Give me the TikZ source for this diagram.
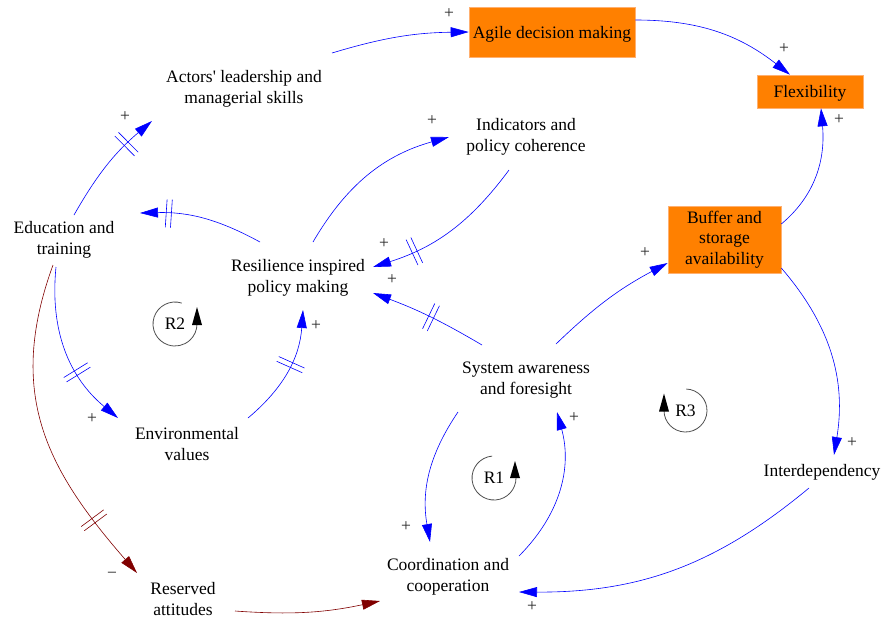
\documentclass[tikz,border=0pt]{standalone}
\usepackage{fontspec}
\setmainfont{Liberation Serif}[Ligatures=TeXOff]
\usetikzlibrary{arrows.meta,calc,decorations.markings}
\definecolor{boxfill}{HTML}{FF8000}
\definecolor{boxline}{HTML}{FFB070}
\definecolor{lnk}{HTML}{0000FF}
\definecolor{negc}{HTML}{800000}
\definecolor{loopgray}{HTML}{505050}
\newcommand{\fs}{\fontsize{17.5}{20.5}\selectfont}
\begin{document}
\begin{tikzpicture}[x=1pt,y=1pt,
  var/.style={font=\fs, align=center, inner sep=0pt, text=black},
  box/.style={var, fill=boxfill, draw=boxline, line width=0.6pt, text depth=0pt},
  poslink/.style={draw=lnk, line width=0.6pt, -{Triangle[length=18pt,width=10pt,fill=lnk]}},
  neglink/.style={draw=negc, line width=0.6pt, -{Triangle[length=18pt,width=10pt,fill=negc]}},
  bdelay/.style={postaction={decorate, decoration={markings, mark=at position #1 with {\draw[-,draw=lnk,line width=0.6pt] (-2.6,-14)--(-2.6,14) (2.6,-14)--(2.6,14);}}}},
  rdelay/.style={postaction={decorate, decoration={markings, mark=at position #1 with {\draw[-,draw=negc,line width=0.6pt] (-2.6,-14)--(-2.6,14) (2.6,-14)--(2.6,14);}}}},
  sign/.style={font=\fs, inner sep=0pt, text=black!85},
  loopc/.style={draw=loopgray, line width=0.8pt},
  looptip/.style={fill=black},
  looplbl/.style={font=\fs, inner sep=0pt, text=black}
]
\useasboundingbox (0,0) rectangle (883,-622);

% variables
\node[var] (act) at (244,-89) {Actors' leadership and\\managerial skills};
\node[box, minimum width=166, minimum height=50] (agile) at (552,-32) {Agile decision making};
\node[box, minimum width=106, minimum height=33] (flex) at (810,-91.5) {Flexibility};
\node[var] (ind) at (526,-137) {Indicators and\\policy coherence};
\node[var] (edu) at (64,-240) {Education and\\training};
\node[var] (res) at (298,-278) {Resilience inspired\\policy making};
\node[box, minimum width=113, minimum height=67, text depth=] (buf) at (724.5,-239.5) {Buffer and\\storage\\availability};
\node[var] (env) at (187,-444) {Environmental\\values};
\node[var] (sys) at (526,-380) {System awareness\\and foresight};
\node[var] (inter) at (822,-472) {Interdependency};
\node[var] (coord) at (448,-577) {Coordination and\\cooperation};
\node[var] (resv) at (183,-599) {Reserved\\attitudes};

% connectors
\draw[poslink] ($(act)+(88,36)$) to[bend left=8] (agile.west);
\draw[poslink] ($(agile.east)+(0,12)$) to[out=0,in=142] ($(flex.north)+(-20,0)$);
\draw[poslink] ($(buf.east)+(0,15.5)$) to[out=40,in=-85] ($(flex.south)+(11,0)$);
\draw[poslink, bdelay=0.72] ($(edu)+(10,25)$) to[bend left=10] ($(act)+(-92,-32)$);
\draw[poslink, bdelay=0.77] ($(res)+(-38,36)$) to[bend right=15] ($(edu)+(76,27)$);
\draw[poslink] ($(res)+(15,36)$) to[bend left=22] ($(ind)+(-77,0)$);
\draw[poslink, bdelay=0.74] ($(ind)+(-17,-33)$) to[bend left=18] ($(res)+(75,11)$);
\draw[poslink, bdelay=0.48] ($(sys)+(-44,35)$) to[bend right=5] ($(res)+(75,-15)$);
\draw[poslink, bdelay=0.64] ($(edu)+(-8,-27)$) to[bend right=28] ($(env)+(-69,26)$);
\draw[poslink, bdelay=0.55] ($(env)+(61,26)$) to[bend right=23] ($(res)+(5,-32)$);
\draw[neglink, rdelay=0.80] ($(edu)+(-11,-25)$) to[out=250,in=131,looseness=1.1] ($(resv)+(-46,26)$);
\draw[neglink] ($(resv)+(52,-12)$) to[bend right=8] ($(coord)+(-68,-24)$);
\draw[poslink] ($(sys)+(30,36)$) to[bend left=8] ($(buf.west)+(0,-23.5)$);
\draw[poslink] ($(sys)+(-68,-32)$) to[bend right=22] ($(coord)+(-18,35)$);
\draw[poslink] ($(coord)+(71,21)$) to[bend right=30] ($(sys)+(31,-32)$);
\draw[poslink] ($(buf.east)+(0,-28.5)$) to[bend left=25] ($(inter)+(12,17)$);
\draw[poslink] ($(inter)+(-13,-16)$) to[bend left=20] ($(coord)+(71,-15)$);

% polarity signs
\node[sign] (s1) at (449,-14) {+};
\node[sign] (s2) at (784,-49) {+};
\node[sign] (s3) at (839,-120) {+};
\node[sign] (s4) at (125,-117) {+};
\node[sign] (s5) at (432,-121) {+};
\node[sign] (s6) at (384,-244) {+};
\node[sign] (s7) at (392,-280) {+};
\node[sign] (s8) at (92,-419) {+};
\node[sign] (s9) at (316,-326) {+};
\node[sign] (s10) at (112,-575) {−};
\node[sign] (s11) at (645,-253) {+};
\node[sign] (s12) at (406,-527) {+};
\node[sign] (s13) at (574,-418) {+};
\node[sign] (s14) at (852,-443) {+};
\node[sign] (s15) at (532,-607) {+};

% loop markers
\node[looplbl] (r2) at (175,-324) {R2};
\draw[loopc] ([shift={(72:22)}]r2.center) arc[start angle=72,end angle=360,radius=22];
\fill[looptip] ([shift={(17,-1)}]r2.center) -- ([shift={(27,-1)}]r2.center) -- ([shift={(22,17)}]r2.center) -- cycle;

\node[looplbl] (r1) at (494,-478) {R1};
\draw[loopc] ([shift={(95:22)}]r1.center) arc[start angle=95,end angle=360,radius=22];
\fill[looptip] ([shift={(16,0)}]r1.center) -- ([shift={(26,0)}]r1.center) -- ([shift={(21,17)}]r1.center) -- cycle;

\node[looplbl] (r3) at (685.5,-410.5) {R3};
\draw[loopc] ([shift={(88:21.5)}]r3.center) arc[start angle=88,end angle=-180,radius=21.5];
\fill[looptip] ([shift={(-26.5,-1)}]r3.center) -- ([shift={(-16.5,-1)}]r3.center) -- ([shift={(-21.5,17)}]r3.center) -- cycle;
\end{tikzpicture}
\end{document}
